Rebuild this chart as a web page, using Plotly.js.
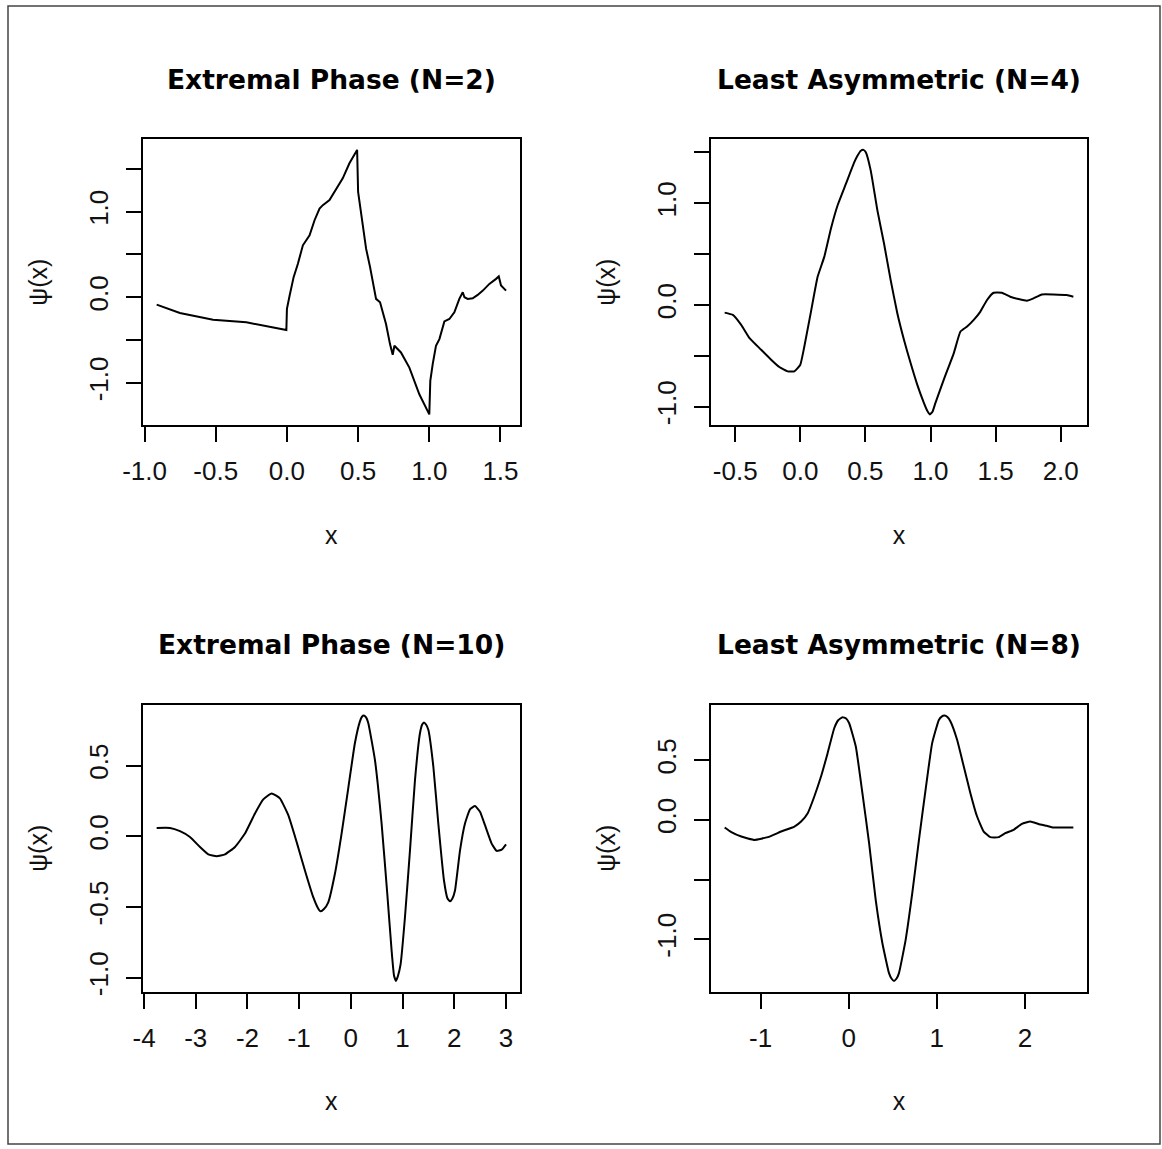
<!DOCTYPE html>
<html>
<head>
<meta charset="utf-8">
<script src="https://cdn.plot.ly/plotly-3.0.1.min.js"></script>
<style>html,body{margin:0;padding:0;background:#fff;}#chart{width:1162px;height:1149px;}</style>
</head>
<body>
<div id="chart"></div>
<script>
// ---------- data ----------
const titles = ["Extremal Phase (N=2)", "Least Asymmetric (N=4)", "Extremal Phase (N=10)", "Least Asymmetric (N=8)"];
const xLabel = "x";
const yLabel = "\u03c8(x)";

const ep2_x = [-0.915,-0.752,-0.519,-0.285,-0.004,0.0,0.019,0.047,0.077,0.112,0.159,0.194,0.229,0.252,0.299,0.334,0.392,0.439,0.493,0.5,0.526,0.556,0.584,0.615,0.626,0.654,0.696,0.724,0.743,0.755,0.801,0.86,0.93,1.0,1.007,1.024,1.047,1.071,1.106,1.141,1.176,1.211,1.235,1.247,1.27,1.305,1.34,1.376,1.422,1.469,1.488,1.504,1.539];
const ep2_y = [-0.086,-0.183,-0.262,-0.293,-0.383,-0.136,0.02,0.235,0.392,0.607,0.724,0.9,1.037,1.076,1.135,1.232,1.39,1.566,1.722,1.232,0.92,0.568,0.352,0.079,-0.019,-0.059,-0.312,-0.547,-0.672,-0.567,-0.645,-0.822,-1.134,-1.369,-0.978,-0.782,-0.567,-0.489,-0.282,-0.254,-0.176,-0.019,0.059,0.0,-0.019,-0.012,0.027,0.078,0.156,0.215,0.243,0.137,0.078];

const la4_x = [-0.581,-0.518,-0.454,-0.39,-0.301,-0.224,-0.161,-0.097,-0.046,0.0,0.031,0.082,0.133,0.184,0.235,0.286,0.35,0.414,0.44,0.465,0.485,0.503,0.541,0.592,0.643,0.694,0.745,0.796,0.847,0.898,0.949,0.975,0.995,1.015,1.038,1.102,1.179,1.23,1.281,1.332,1.383,1.434,1.485,1.548,1.612,1.676,1.74,1.791,1.855,1.944,2.046,2.097];
const la4_y = [-0.075,-0.098,-0.196,-0.326,-0.44,-0.538,-0.61,-0.653,-0.653,-0.587,-0.408,-0.065,0.277,0.473,0.75,0.978,1.19,1.402,1.47,1.517,1.525,1.501,1.321,0.93,0.604,0.245,-0.081,-0.342,-0.571,-0.783,-0.962,-1.04,-1.076,-1.05,-0.962,-0.734,-0.473,-0.261,-0.212,-0.147,-0.065,0.049,0.12,0.12,0.081,0.058,0.042,0.065,0.104,0.104,0.098,0.081];

const ep10_x = [-3.756,-3.498,-3.305,-3.112,-2.918,-2.757,-2.596,-2.435,-2.241,-2.048,-1.855,-1.694,-1.533,-1.372,-1.21,-1.049,-0.888,-0.727,-0.64,-0.585,-0.52,-0.437,-0.308,-0.179,-0.05,0.079,0.176,0.215,0.254,0.295,0.337,0.466,0.595,0.705,0.789,0.835,0.873,0.91,0.963,1.047,1.144,1.241,1.338,1.38,1.415,1.455,1.499,1.596,1.692,1.802,1.87,1.918,1.965,2.015,2.112,2.208,2.305,2.402,2.499,2.595,2.724,2.821,2.918,3.002];
const ep10_y = [0.059,0.059,0.036,-0.005,-0.076,-0.128,-0.142,-0.128,-0.076,0.019,0.161,0.261,0.303,0.268,0.149,-0.04,-0.242,-0.431,-0.505,-0.531,-0.515,-0.467,-0.265,0.019,0.339,0.659,0.812,0.845,0.853,0.84,0.801,0.54,0.09,-0.407,-0.81,-0.985,-1.023,-0.99,-0.905,-0.573,-0.1,0.398,0.73,0.79,0.805,0.79,0.753,0.493,0.09,-0.313,-0.44,-0.46,-0.44,-0.384,-0.1,0.09,0.19,0.213,0.173,0.078,-0.052,-0.104,-0.095,-0.057];

const la8_x = [-1.409,-1.333,-1.22,-1.069,-0.918,-0.768,-0.617,-0.541,-0.466,-0.391,-0.315,-0.24,-0.165,-0.12,-0.071,-0.03,0.005,0.08,0.155,0.231,0.306,0.382,0.457,0.485,0.514,0.543,0.57,0.646,0.721,0.797,0.872,0.947,1.023,1.055,1.087,1.12,1.155,1.23,1.306,1.381,1.457,1.532,1.607,1.702,1.777,1.871,1.966,2.06,2.154,2.248,2.324,2.55];
const la8_y = [-0.064,-0.103,-0.14,-0.168,-0.145,-0.098,-0.056,-0.014,0.056,0.196,0.363,0.559,0.768,0.835,0.861,0.85,0.81,0.615,0.224,-0.196,-0.671,-1.034,-1.285,-1.33,-1.35,-1.33,-1.285,-1.006,-0.615,-0.168,0.251,0.643,0.838,0.866,0.874,0.862,0.824,0.671,0.447,0.224,0.028,-0.098,-0.145,-0.145,-0.112,-0.084,-0.034,-0.014,-0.034,-0.05,-0.064,-0.064];

// tick values and labels (R skips labels that would overlap)
const ep2_xticks = [-1,-0.5,0,0.5,1,1.5];
const ep2_xtext  = ["-1.0","-0.5","0.0","0.5","1.0","1.5"];
const ep2_yticks = [-1,-0.5,0,0.5,1,1.5];
const ep2_ytext  = ["-1.0","","0.0","","1.0",""];
const la4_xticks = [-0.5,0,0.5,1,1.5,2];
const la4_xtext  = ["-0.5","0.0","0.5","1.0","1.5","2.0"];
const la4_yticks = [-1,-0.5,0,0.5,1,1.5];
const la4_ytext  = ["-1.0","","0.0","","1.0",""];
const ep10_xticks = [-4,-3,-2,-1,0,1,2,3];
const ep10_xtext  = ["-4","-3","-2","-1","0","1","2","3"];
const ep10_yticks = [-1,-0.5,0,0.5];
const ep10_ytext  = ["-1.0","-0.5","0.0","0.5"];
const la8_xticks = [-1,0,1,2];
const la8_xtext  = ["-1","0","1","2"];
const la8_yticks = [-1,-0.5,0,0.5];
const la8_ytext  = ["-1.0","","0.0","0.5"];

// ---------- layout ----------
const W = 1162, H = 1149;
function rRange(a){ const mn=Math.min(...a), mx=Math.max(...a), d=mx-mn; return [mn-0.04*d, mx+0.04*d]; }
const colDom = [[142.7/W, 520/W], [710.7/W, 1087.3/W]];
const rowDom = [[1-425/H, 1-139.3/H], [1-991.5/H, 1-705/H]];

const tickFont = {family: "Liberation Sans, Arial, sans-serif", size: 26, color: "#111"};
const labFont = {family: "Liberation Sans, Arial, sans-serif", size: 25, color: "#111"};
const titleFont = {family: "DejaVu Sans, Liberation Sans, Arial, sans-serif", size: 26.5, color: "#000", weight: "bold"};

const panels = [
  {x: ep2_x, y: ep2_y, xt: ep2_xticks, xl: ep2_xtext, yt: ep2_yticks, yl: ep2_ytext, col: 0, row: 0, smooth: false},
  {x: la4_x, y: la4_y, xt: la4_xticks, xl: la4_xtext, yt: la4_yticks, yl: la4_ytext, col: 1, row: 0, smooth: true},
  {x: ep10_x, y: ep10_y, xt: ep10_xticks, xl: ep10_xtext, yt: ep10_yticks, yl: ep10_ytext, col: 0, row: 1, smooth: true},
  {x: la8_x, y: la8_y, xt: la8_xticks, xl: la8_xtext, yt: la8_yticks, yl: la8_ytext, col: 1, row: 1, smooth: true}
];

const common = {
  showline: true, mirror: true, linecolor: "#000", linewidth: 2,
  ticks: "outside", ticklen: 15, tickwidth: 2, tickcolor: "#000",
  showgrid: false, zeroline: false, tickmode: "array", fixedrange: true,
  tickfont: tickFont
};

const data = [];
const layout = {
  width: W, height: H, margin: {l: 0, r: 0, t: 0, b: 0},
  paper_bgcolor: "#fff", plot_bgcolor: "#fff", showlegend: false,
  annotations: [],
  shapes: [{type: "rect", xref: "paper", yref: "paper", x0: 8/W, x1: 1160/W, y0: 1-1144/H, y1: 1-6/H, line: {color: "#444", width: 1.5}}]
};

panels.forEach((p, i) => {
  const n = i === 0 ? "" : String(i + 1);
  const line = p.smooth ? {color: "#000", width: 2, shape: "spline", smoothing: 0.4} : {color: "#000", width: 2};
  data.push({type: "scatter", mode: "lines", x: p.x, y: p.y, xaxis: "x" + n, yaxis: "y" + n,
             line: line, hoverinfo: "skip"});
  layout["xaxis" + n] = Object.assign({}, common, {
    domain: colDom[p.col], anchor: "y" + n, range: rRange(p.x),
    tickvals: p.xt, ticktext: p.xl, ticklabelstandoff: 7,
    title: {text: xLabel, font: labFont, standoff: 41}
  });
  layout["yaxis" + n] = Object.assign({}, common, {
    domain: rowDom[p.row], anchor: "x" + n, range: rRange(p.y),
    tickvals: p.yt, ticktext: p.yl, tickangle: -90, ticklabelstandoff: 7,
    title: {text: yLabel, font: labFont, standoff: 30}
  });
  layout.annotations.push({
    text: titles[i], xref: "x" + n + " domain", yref: "y" + n + " domain",
    x: 0.5, y: 1.21, xanchor: "center", yanchor: "middle", showarrow: false, font: titleFont
  });
});

Plotly.newPlot("chart", data, layout, {staticPlot: true, displayModeBar: false});
</script>
</body>
</html>
